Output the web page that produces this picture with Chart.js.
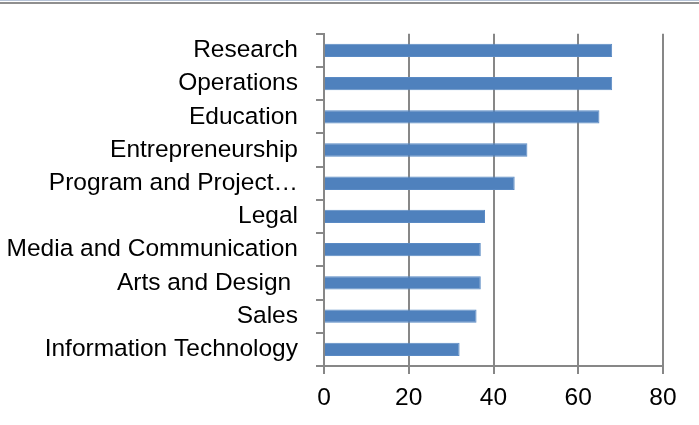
<!DOCTYPE html>
<html lang="en">
<head>
  <meta charset="UTF-8" />
  <title>Career Fields</title>
  <script src="https://cdn.jsdelivr.net/npm/chart.js"></script>
  <style>
    html, body { margin: 0; padding: 0; background: #fff; }
    .frame { width: 699px; height: 425px; position: relative; box-sizing: border-box;
             border-top: 1px solid #b7c4d8; }
    .frame::before { content: ''; position: absolute; left: 0; right: 0; top: 1px; height: 2px; background: #8f8f8f; }
  </style>
</head>
<body>
  <div class="frame">
    <canvas id="fieldChart" width="699" height="424"></canvas>
  </div>

  <script>
    const categories = [
      'Research', 'Operations', 'Education', 'Entrepreneurship',
      'Program and Project\u2026', 'Legal', 'Media and Communication',
      'Arts and Design ', 'Sales', 'Information Technology'
    ];
    const counts = [68, 68, 65, 48, 45, 38, 37, 37, 36, 32];
    const xTicks = [0, 20, 40, 60, 80];

    const gray = '#878787';
    const font = { family: "'Liberation Sans', Arial, sans-serif", size: 24.5 };

    const ctx = document.getElementById('fieldChart').getContext('2d');

    new Chart(ctx, {
      type: 'bar',
      data: {
        labels: categories,
        datasets: [{
          data: counts,
          backgroundColor: '#4f81bd',
          borderColor: '#5a8ac4',
          borderWidth: 1,
          categoryPercentage: 1,
          barPercentage: 0.4
        }]
      },
      options: {
        indexAxis: 'y',
        responsive: false,
        animation: false,
        layout: { padding: { top: 29, right: 36, bottom: 0, left: 0 } },
        scales: {
          x: {
            min: xTicks[0],
            max: xTicks[xTicks.length - 1],
            afterBuildTicks: s => { s.ticks = xTicks.map(v => ({ value: v })); },
            afterFit: s => { s.height = 59; },
            grid: { color: gray, lineWidth: 2, tickLength: 8 },
            border: { color: gray, width: 2 },
            ticks: { color: '#000', font, padding: 10, maxRotation: 0 }
          },
          y: {
            afterFit: s => { s.width = 324; },
            grid: { color: gray, lineWidth: 2, tickLength: 8, drawOnChartArea: false, offset: true },
            border: { color: gray, width: 2 },
            ticks: { color: '#000', font, padding: 18, autoSkip: false }
          }
        },
        plugins: {
          legend: { display: false },
          tooltip: { enabled: false }
        }
      }
    });
  </script>
</body>
</html>
